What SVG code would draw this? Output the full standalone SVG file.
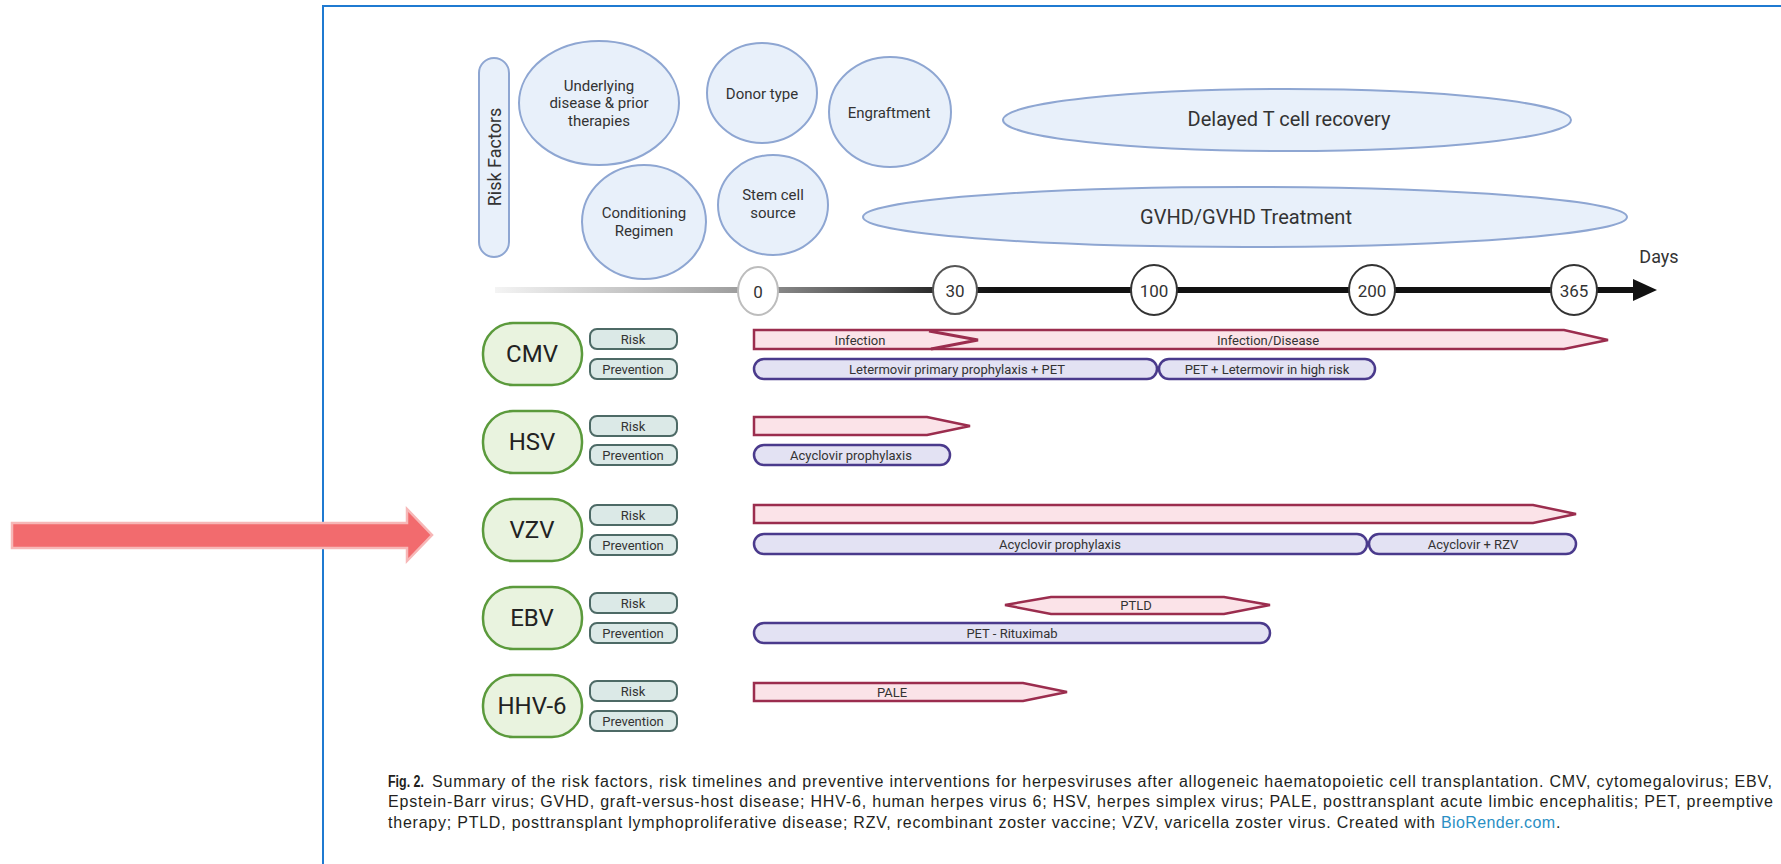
<svg xmlns="http://www.w3.org/2000/svg" width="1781" height="864" viewBox="0 0 1781 864">
<style>
  text { font-family: Roboto, "Liberation Sans", sans-serif; fill: #333; }
  .c { text-anchor: middle; dominant-baseline: central; }
  .rf { fill: #e8f0fa; stroke: #8ea6d2; stroke-width: 2; }
  .rft { font-size: 15px; }
  .big { font-size: 20px; }
  .tick { fill: #fff; stroke-width: 2; }
  .tickt { font-size: 17px; }
  .virus { fill: #e9f3df; stroke: #5b9a3c; stroke-width: 2.5; }
  .virust { font-size: 24px; fill: #222; }
  .tag { fill: #dbe9e7; stroke: #4d6a66; stroke-width: 2; }
  .tagt { font-size: 13px; }
  .risk { fill: #fbe3e8; stroke: #9b2d4e; stroke-width: 2.5; stroke-linejoin: miter; }
  .prev { fill: #e3e2f3; stroke: #4a3a8c; stroke-width: 2.5; }
  .bart { font-size: 13px; }
  .cap { font-family: "Liberation Sans", Arial, sans-serif; font-size: 16px; fill: #231f20; }
</style>
<defs>
  <linearGradient id="axisGrad" gradientUnits="userSpaceOnUse" x1="495" y1="0" x2="1000" y2="0">
    <stop offset="0" stop-color="#f4f4f4"/>
    <stop offset="0.5" stop-color="#9a9a9a"/>
    <stop offset="0.9" stop-color="#222"/>
    <stop offset="1" stop-color="#111"/>
  </linearGradient>
</defs>
<rect width="1781" height="864" fill="#fff"/>

<!-- page frame -->
<g id="frame">
  <path d="M1781 6 H323 V864" fill="none" stroke="#1f7ad1" stroke-width="2"/>
</g>

<!-- risk factors -->
<g id="risk-factors-label">
  <rect x="479" y="58" width="30" height="199" rx="15" class="rf"/>
  <text x="494" y="157" class="c" font-size="18" transform="rotate(-90 494 157)">Risk Factors</text>
</g>
<g id="underlying">
  <ellipse cx="599" cy="103" rx="80" ry="62" class="rf"/>
  <text x="599" y="86" class="c rft">Underlying</text>
  <text x="599" y="103" class="c rft">disease &amp; prior</text>
  <text x="599" y="121" class="c rft">therapies</text>
</g>
<g id="donor-type">
  <ellipse cx="762" cy="93" rx="55" ry="50" class="rf"/>
  <text x="762" y="94" class="c rft">Donor type</text>
</g>
<g id="engraftment">
  <ellipse cx="890" cy="112" rx="61" ry="55" class="rf"/>
  <text x="889" y="113" class="c rft">Engraftment</text>
</g>
<g id="conditioning">
  <ellipse cx="644" cy="222" rx="62" ry="57" class="rf"/>
  <text x="644" y="213" class="c rft">Conditioning</text>
  <text x="644" y="231" class="c rft">Regimen</text>
</g>
<g id="stem-cell">
  <ellipse cx="773" cy="205" rx="55" ry="50" class="rf"/>
  <text x="773" y="195" class="c rft">Stem cell</text>
  <text x="773" y="213" class="c rft">source</text>
</g>
<g id="delayed-t-cell">
  <ellipse cx="1287" cy="120" rx="284" ry="31" class="rf"/>
  <text x="1289" y="119" class="c big">Delayed T cell recovery</text>
</g>
<g id="gvhd">
  <ellipse cx="1245" cy="217" rx="382" ry="30" class="rf"/>
  <text x="1246" y="217" class="c big">GVHD/GVHD Treatment</text>
</g>

<!-- timeline axis -->
<g id="connectors">
  <line x1="495" y1="290" x2="1636" y2="290" stroke="url(#axisGrad)" stroke-width="6"/>
  <polygon points="1633,279 1657,290 1633,301" fill="#111"/>
</g>
<g id="day-0"><ellipse cx="758" cy="291" rx="20" ry="24" class="tick" stroke="#bdbdbd"/><text x="758" y="292" class="c tickt">0</text></g>
<g id="day-30"><ellipse cx="955" cy="290" rx="22" ry="24" class="tick" stroke="#555"/><text x="955" y="291" class="c tickt">30</text></g>
<g id="day-100"><ellipse cx="1154" cy="290" rx="23" ry="25" class="tick" stroke="#333"/><text x="1154" y="291" class="c tickt">100</text></g>
<g id="day-200"><ellipse cx="1372" cy="290" rx="23" ry="25" class="tick" stroke="#333"/><text x="1372" y="291" class="c tickt">200</text></g>
<g id="day-365"><ellipse cx="1574" cy="290" rx="23" ry="25" class="tick" stroke="#333"/><text x="1574" y="291" class="c tickt">365</text></g>
<g id="days-label"><text x="1659" y="256" class="c" font-size="18">Days</text></g>

<!-- CMV -->
<g id="cmv">
  <rect x="483" y="323" width="99" height="62" rx="30" class="virus"/>
  <text x="532" y="354" class="c virust">CMV</text>
  <rect x="590" y="329" width="87" height="20" rx="7" class="tag"/>
  <text x="633" y="339" class="c tagt">Risk</text>
  <rect x="590" y="359" width="87" height="20" rx="7" class="tag"/>
  <text x="633" y="369" class="c tagt">Prevention</text>
  <polygon points="754,330 1564,330 1608,340 1564,349 754,349" class="risk"/>
  <polyline points="929,331 978,340 931,349" fill="none" stroke="#9b2d4e" stroke-width="3"/>
  <text x="860" y="340" class="c bart">Infection</text>
  <text x="1268" y="340" class="c bart">Infection/Disease</text>
  <rect x="754" y="359" width="403" height="20" rx="10" class="prev"/>
  <text x="957" y="369" class="c bart">Letermovir primary prophylaxis + PET</text>
  <rect x="1159" y="359" width="216" height="20" rx="10" class="prev"/>
  <text x="1267" y="369" class="c bart">PET + Letermovir in high risk</text>
</g>

<!-- HSV -->
<g id="hsv">
  <rect x="483" y="411" width="99" height="62" rx="30" class="virus"/>
  <text x="532" y="442" class="c virust">HSV</text>
  <rect x="590" y="416" width="87" height="20" rx="7" class="tag"/>
  <text x="633" y="426" class="c tagt">Risk</text>
  <rect x="590" y="445" width="87" height="20" rx="7" class="tag"/>
  <text x="633" y="455" class="c tagt">Prevention</text>
  <polygon points="754,417 927,417 970,426 927,435 754,435" class="risk"/>
  <rect x="754" y="445" width="196" height="20" rx="10" class="prev"/>
  <text x="851" y="455" class="c bart">Acyclovir prophylaxis</text>
</g>

<!-- VZV -->
<g id="vzv">
  <rect x="483" y="499" width="99" height="62" rx="30" class="virus"/>
  <text x="532" y="530" class="c virust">VZV</text>
  <rect x="590" y="505" width="87" height="20" rx="7" class="tag"/>
  <text x="633" y="515" class="c tagt">Risk</text>
  <rect x="590" y="535" width="87" height="20" rx="7" class="tag"/>
  <text x="633" y="545" class="c tagt">Prevention</text>
  <polygon points="754,505 1533,505 1576,514 1533,523 754,523" class="risk"/>
  <rect x="754" y="534" width="613" height="20" rx="10" class="prev"/>
  <text x="1060" y="544" class="c bart">Acyclovir prophylaxis</text>
  <rect x="1369" y="534" width="207" height="20" rx="10" class="prev"/>
  <text x="1473" y="544" class="c bart">Acyclovir + RZV</text>
</g>

<!-- EBV -->
<g id="ebv">
  <rect x="483" y="587" width="99" height="62" rx="30" class="virus"/>
  <text x="532" y="618" class="c virust">EBV</text>
  <rect x="590" y="593" width="87" height="20" rx="7" class="tag"/>
  <text x="633" y="603" class="c tagt">Risk</text>
  <rect x="590" y="623" width="87" height="20" rx="7" class="tag"/>
  <text x="633" y="633" class="c tagt">Prevention</text>
  <polygon points="1005,605 1051,597 1224,597 1270,605 1224,614 1051,614" class="risk"/>
  <text x="1136" y="605" class="c bart">PTLD</text>
  <rect x="754" y="623" width="516" height="20" rx="10" class="prev"/>
  <text x="1012" y="633" class="c bart">PET - Rituximab</text>
</g>

<!-- HHV-6 -->
<g id="hhv6">
  <rect x="483" y="675" width="99" height="62" rx="30" class="virus"/>
  <text x="532" y="706" class="c virust">HHV-6</text>
  <rect x="590" y="681" width="87" height="20" rx="7" class="tag"/>
  <text x="633" y="691" class="c tagt">Risk</text>
  <rect x="590" y="711" width="87" height="20" rx="7" class="tag"/>
  <text x="633" y="721" class="c tagt">Prevention</text>
  <polygon points="754,683 1023,683 1067,692 1023,701 754,701" class="risk"/>
  <text x="892" y="692" class="c bart">PALE</text>
</g>

<!-- pointer arrow -->
<g id="pointer-arrow">
  <polygon points="12,523 407,523 407,509 432,535 407,561 407,548 12,548" fill="#f26b6e" stroke="#f7b7b7" stroke-width="2.5"/>
</g>

<!-- caption -->
<g id="caption">
  <text x="388" y="787" class="cap" font-weight="bold" font-size="15" textLength="36" lengthAdjust="spacingAndGlyphs">Fig. 2.</text>
  <text x="432" y="787" class="cap" textLength="1340" lengthAdjust="spacing">Summary of the risk factors, risk timelines and preventive interventions for herpesviruses after allogeneic haematopoietic cell transplantation. CMV, cytomegalovirus; EBV,</text>
  <text x="388" y="807" class="cap" textLength="1385" lengthAdjust="spacing">Epstein-Barr virus; GVHD, graft-versus-host disease; HHV-6, human herpes virus 6; HSV, herpes simplex virus; PALE, posttransplant acute limbic encephalitis; PET, preemptive</text>
  <text x="388" y="828" class="cap" textLength="1047" lengthAdjust="spacing">therapy; PTLD, posttransplant lymphoproliferative disease; RZV, recombinant zoster vaccine; VZV, varicella zoster virus. Created with</text>
  <text x="1441" y="828" class="cap" style="fill:#2a8fc4" textLength="114" lengthAdjust="spacing">BioRender.com</text>
  <text x="1556" y="828" class="cap">.</text>
</g>
</svg>
